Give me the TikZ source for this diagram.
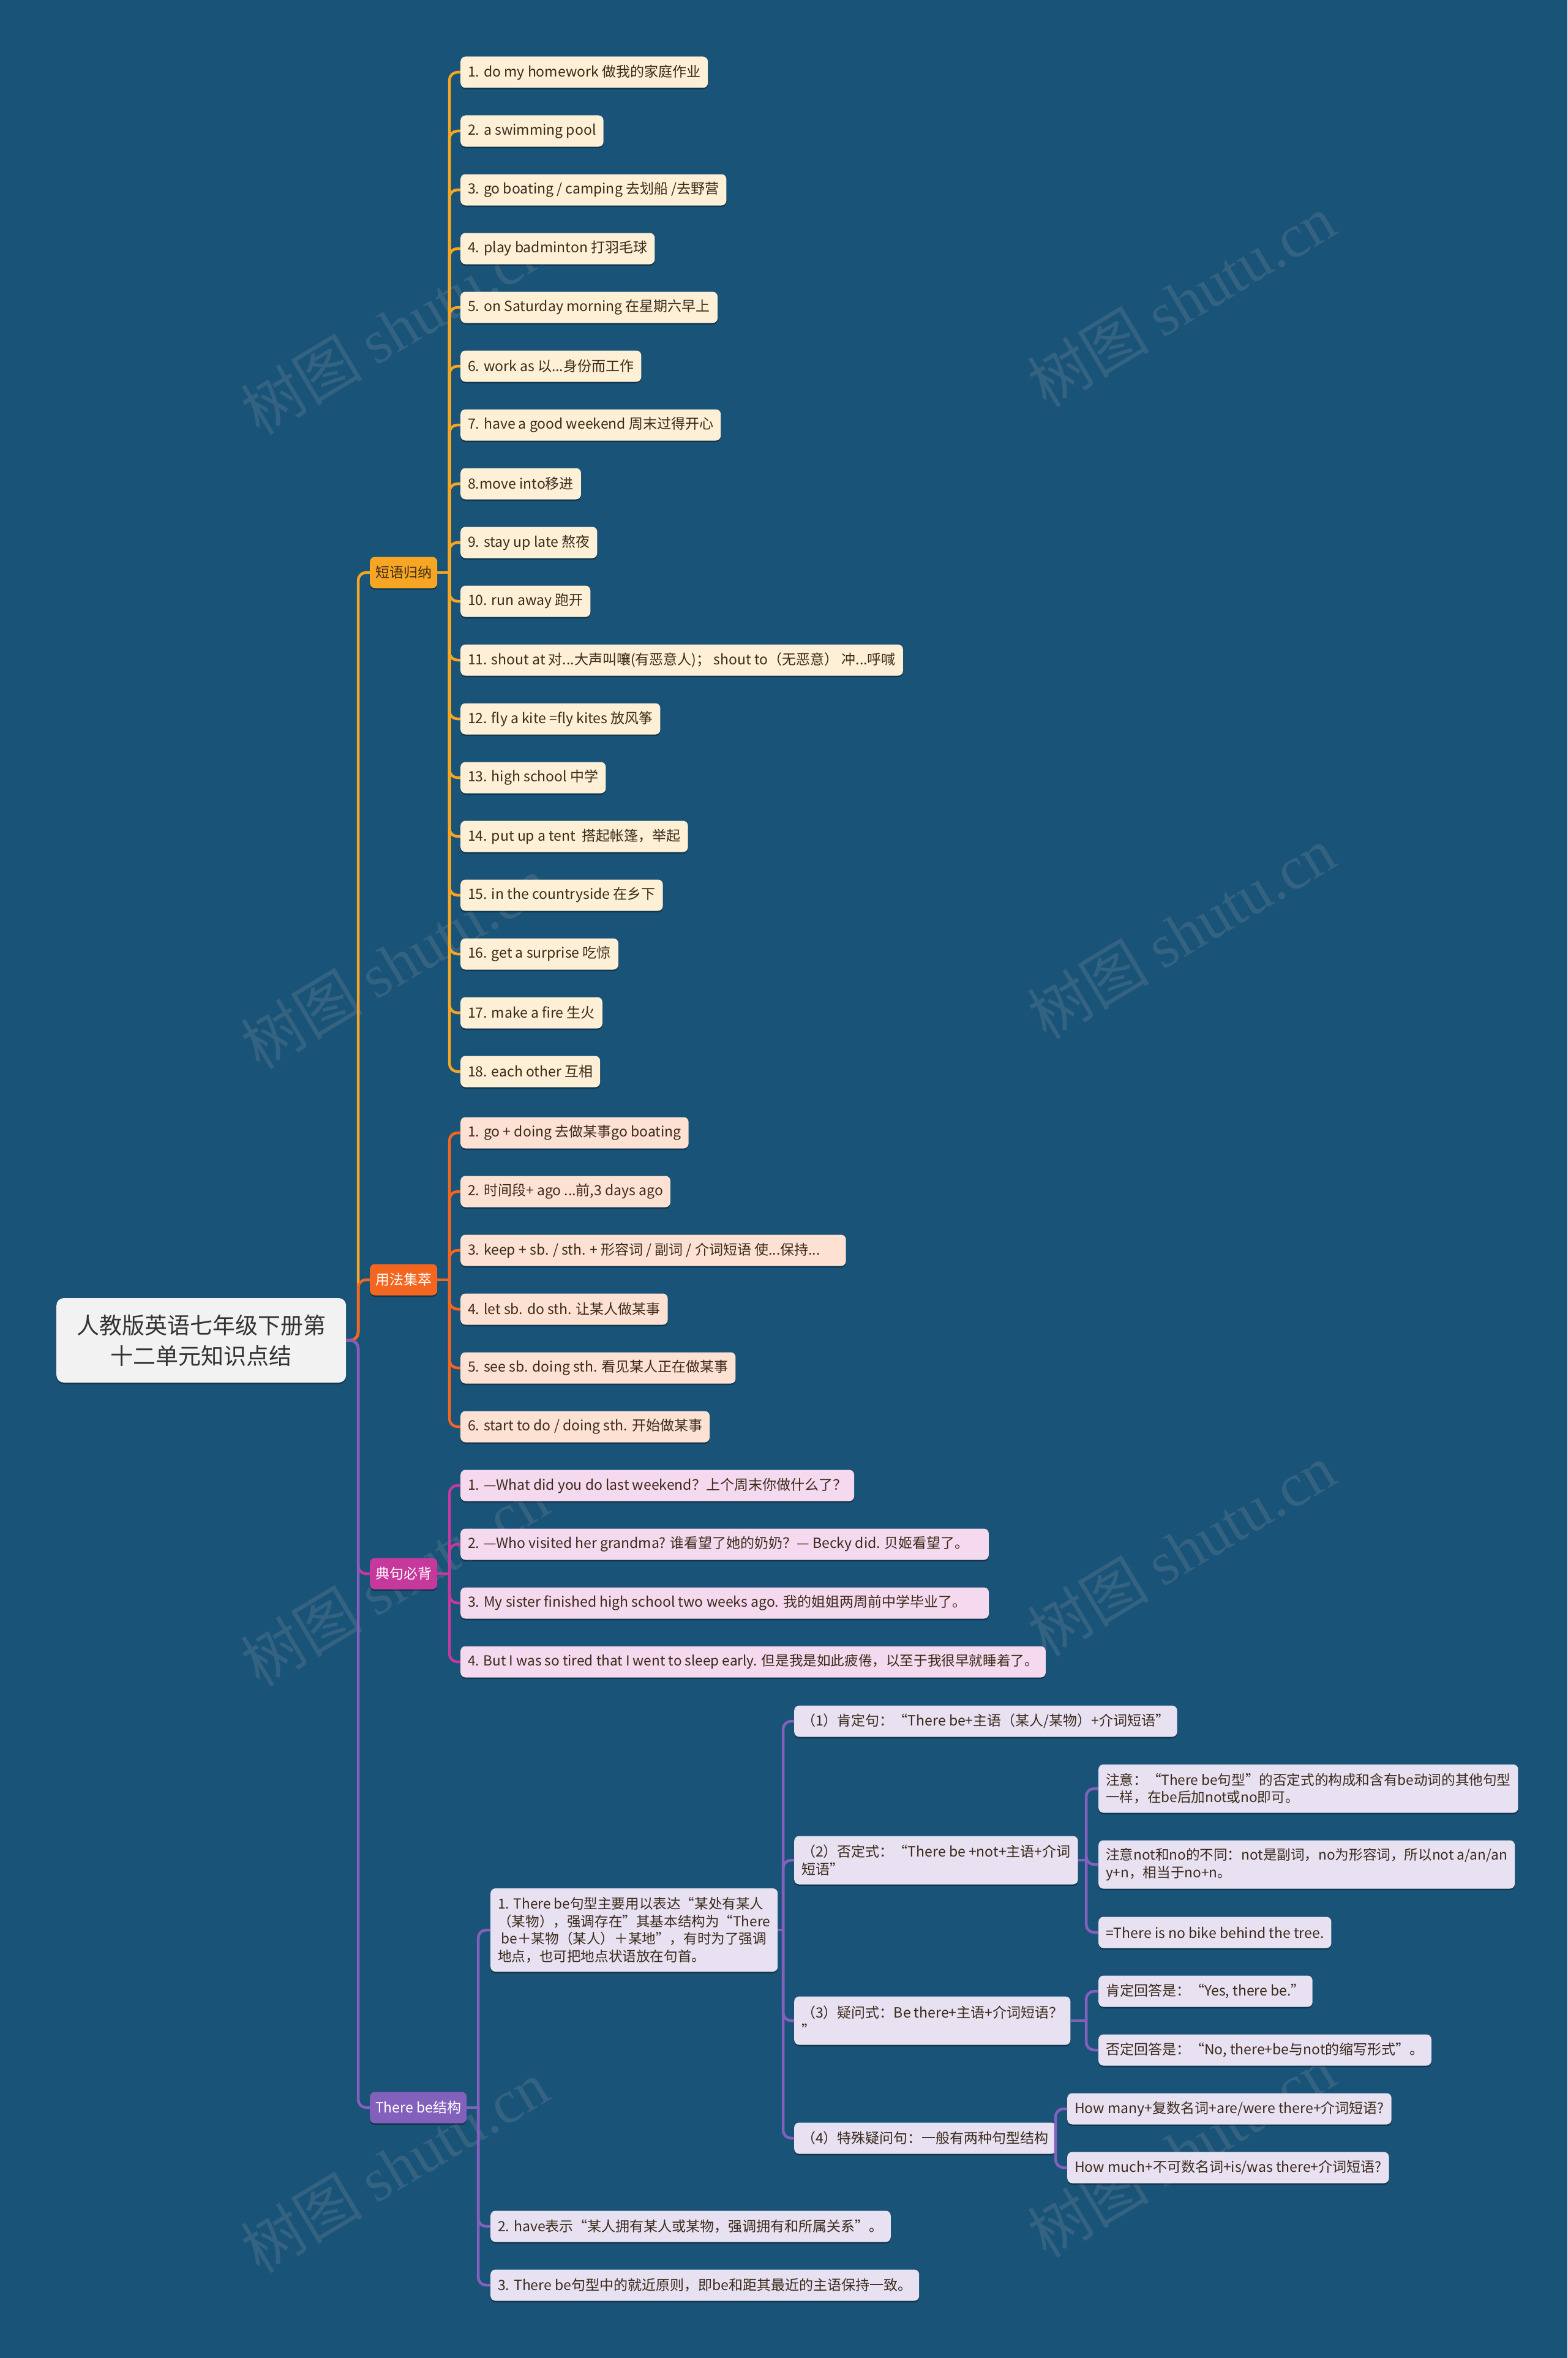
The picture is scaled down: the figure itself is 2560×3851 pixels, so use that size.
\documentclass[tikz,border=0pt]{standalone}
\usepackage{fontspec}
\setmainfont{Noto Sans CJK SC}
\newfontfamily\wmfont{Liberation Serif}
\usetikzlibrary{shadows}
\definecolor{cBg}{HTML}{195378}
\definecolor{cRoot}{HTML}{F2F2F2}
\definecolor{cRootTxt}{HTML}{333333}
\definecolor{cBrA}{HTML}{F7A623}
\definecolor{cLfA}{HTML}{FEF0D6}
\definecolor{cTxtA}{HTML}{3B2A1A}
\definecolor{cBrB}{HTML}{F4661F}
\definecolor{cLfB}{HTML}{FDE2D4}
\definecolor{cBrC}{HTML}{C7389D}
\definecolor{cLfC}{HTML}{F5D9EE}
\definecolor{cBrD}{HTML}{8460BD}
\definecolor{cLfD}{HTML}{E7E1F2}
\definecolor{cWm}{HTML}{7A8A99}
\newcommand\fsleaf{\fontsize{23pt}{28.5pt}\selectfont}
\newcommand\fsnarrow{\fontsize{22.6pt}{28.5pt}\selectfont}
\newcommand\fsroot{\fontsize{37pt}{50pt}\selectfont}
\newcommand\fswm{\fontsize{100pt}{110pt}\selectfont}
\tikzset{
  base/.style={anchor=west, rounded corners=8pt, inner xsep=12pt, inner ysep=0pt,
    minimum height=51pt, font=\fsleaf, text=cTxtA,
    drop shadow={shadow xshift=0pt, shadow yshift=-2.5pt, opacity=0.35, fill=black}},
  rootbox/.style={anchor=west, fill=cRoot, text=cRootTxt, rounded corners=12pt,
    text width=473pt, inner xsep=0pt, minimum height=138pt, align=center, font=\fsroot,
    drop shadow={shadow xshift=0pt, shadow yshift=-2.5pt, opacity=0.35, fill=black}},
  brA/.style={base, inner xsep=9pt, fill=cBrA, text=cTxtA},
  brB/.style={base, inner xsep=9pt, fill=cBrB, text=white},
  brC/.style={base, inner xsep=9pt, fill=cBrC, text=white},
  brD/.style={base, inner xsep=9pt, fill=cBrD, text=white},
  lfA/.style={base, fill=cLfA},
  lfB/.style={base, fill=cLfB},
  lfC/.style={base, fill=cLfC},
  lfD/.style={base, fill=cLfD},
  multi/.style={align=left, inner ysep=6pt},
  conn/.style={line width=4.5pt, rounded corners=13pt},
  connA/.style={conn, draw=cBrA},
  connB/.style={conn, draw=cBrB},
  connC/.style={conn, draw=cBrC},
  connD/.style={conn, draw=cBrD},
  wm/.style={font=\fswm, text=cWm, opacity=0.28, rotate=31}
}
\begin{document}
\begin{tikzpicture}[x=1pt,y=-1pt]
\fill[cBg] (0,0) rectangle (2560,3851);
\useasboundingbox (0,0) rectangle (2560,3851);

% watermarks
\node[wm] (wm1) at (644,536) {树图 {\wmfont shutu.cn}};
\node[wm] (wm2) at (1929,491) {树图 {\wmfont shutu.cn}};
\node[wm] (wm3) at (644,1572) {树图 {\wmfont shutu.cn}};
\node[wm] (wm4) at (1929,1523) {树图 {\wmfont shutu.cn}};
\node[wm] (wm5) at (644,2580) {树图 {\wmfont shutu.cn}};
\node[wm] (wm6) at (1929,2531) {树图 {\wmfont shutu.cn}};
\node[wm] (wm7) at (644,3538) {树图 {\wmfont shutu.cn}};
\node[wm] (wm8) at (1929,3513) {树图 {\wmfont shutu.cn}};

% root
\node[rootbox] (root) at (92,2189) {人教版英语七年级下册第\\十二单元知识点结};

% branches
\node[brA] (b1) at (604,935) {短语归纳};
\node[brB] (b2) at (604,2090) {用法集萃};
\node[brC] (b3) at (604,2570) {典句必背};
\node[brD] (b4) at (604,3442) {There be结构};

% branch 1 leaves
\node[lfA] (a1) at (752,118) {1. do my homework 做我的家庭作业};
\node[lfA] (a2) at (752,214) {2. a swimming pool};
\node[lfA] (a3) at (752,310) {3. go boating / camping 去划船 /去野营};
\node[lfA] (a4) at (752,406) {4. play badminton 打羽毛球};
\node[lfA] (a5) at (752,502) {5. on Saturday morning 在星期六早上};
\node[lfA] (a6) at (752,598) {6. work as 以...身份而工作};
\node[lfA] (a7) at (752,694) {7. have a good weekend 周末过得开心};
\node[lfA] (a8) at (752,790) {8.move into移进};
\node[lfA] (a9) at (752,886) {9. stay up late 熬夜};
\node[lfA] (a10) at (752,982) {10. run away 跑开};
\node[lfA] (a11) at (752,1078) {11. shout at 对...大声叫嚷(有恶意人)； shout to（无恶意） 冲...呼喊};
\node[lfA] (a12) at (752,1174) {12. fly a kite =fly kites 放风筝};
\node[lfA] (a13) at (752,1270) {13. high school 中学};
\node[lfA] (a14) at (752,1366) {14. put up a tent \ 搭起帐篷，举起};
\node[lfA] (a15) at (752,1462) {15. in the countryside 在乡下};
\node[lfA] (a16) at (752,1558) {16. get a surprise 吃惊};
\node[lfA] (a17) at (752,1654) {17. make a fire 生火};
\node[lfA] (a18) at (752,1750) {18. each other 互相};

% branch 2 leaves
\node[lfB] (u1) at (752,1850) {1. go + doing 去做某事go boating};
\node[lfB] (u2) at (752,1946) {2. 时间段+ ago ...前,3 days ago};
\node[lfB] (u3) at (752,2042) {3. keep + sb. / sth. + 形容词 / 副词 / 介词短语 使...保持...\kern30pt};
\node[lfB] (u4) at (752,2138) {4. let sb. do sth. 让某人做某事};
\node[lfB] (u5) at (752,2234) {5. see sb. doing sth. 看见某人正在做某事};
\node[lfB] (u6) at (752,2330) {6. start to do / doing sth. 开始做某事};

% branch 3 leaves
\node[lfC] (s1) at (752,2426) {1. —What did you do last weekend？上个周末你做什么了？};
\node[lfC] (s2) at (752,2522) {2. —Who visited her grandma? 谁看望了她的奶奶？— Becky did. 贝姬看望了。\kern20pt};
\node[lfC] (s3) at (752,2618) {3. My sister finished high school two weeks ago. 我的姐姐两周前中学毕业了。\kern25pt};
\node[lfC, font=\fsnarrow] (s4) at (752,2714) {4. But I was so tired that I went to sleep early. 但是我是如此疲倦，以至于我很早就睡着了。};

% branch 4 level 2
\node[lfD, multi, minimum height=136pt, font=\fsnarrow] (t1) at (801,3152) {1. There be句型主要用以表达“某处有某人\\（某物），强调存在”其基本结构为“There\\\hspace{0.25em}be＋某物（某人）＋某地”，有时为了强调\\地点，也可把地点状语放在句首。};
\node[lfD] (t2) at (801,3636) {2. have表示“某人拥有某人或某物，强调拥有和所属关系”。};
\node[lfD] (t3) at (801,3732) {3. There be句型中的就近原则，即be和距其最近的主语保持一致。};

% level 3
\node[lfD] (p1) at (1297,2811) {（1）肯定句：“There be+主语（某人/某物）+介词短语”};
\node[lfD, multi, minimum height=79pt] (p2) at (1297,3038) {（2）否定式：“There be +not+主语+介词\\短语”};
\node[lfD, multi, minimum height=79pt] (p3) at (1297,3300) {（3）疑问式：Be there+主语+介词短语？\\”};
\node[lfD] (p4) at (1297,3492) {（4）特殊疑问句：一般有两种句型结构};

% level 4
\node[lfD, multi, minimum height=79pt, font=\fsnarrow] (n1) at (1794,2921) {注意：“There be句型”的否定式的构成和含有be动词的其他句型\\一样，在be后加not或no即可。};
\node[lfD, multi, minimum height=79pt, font=\fsnarrow] (n2) at (1794,3045) {注意not和no的不同：not是副词，no为形容词，所以not a/an/an\\y+n，相当于no+n。};
\node[lfD] (n3) at (1794,3156) {=There is no bike behind the tree.};
\node[lfD] (q1) at (1794,3252) {肯定回答是：“Yes, there be.”};
\node[lfD] (q2) at (1794,3348) {否定回答是：“No, there+be与not的缩写形式”。};
\node[lfD] (h1) at (1743,3444) {How many+复数名词+are/were there+介词短语?};
\node[lfD] (h2) at (1743,3540) {How much+不可数名词+is/was there+介词短语?};

% connectors root -> branches
\coordinate (rj) at (585,2189);
\draw[connA] (root.east) -- (rj) |- (b1.west);
\draw[connB] (root.east) -- (rj) |- (b2.west);
\draw[connC] (root.east) -- (rj) |- (b3.west);
\draw[connD] (root.east) -- (rj) |- (b4.west);

% branch 1
\coordinate (j1) at (734,935);
\draw[connA] (b1.east) -- (j1);
\foreach \i in {1,...,18} \draw[connA] (j1) |- (a\i.west);

% branch 2
\coordinate (j2) at (734,2090);
\draw[connB] (b2.east) -- (j2);
\foreach \i in {1,...,6} \draw[connB] (j2) |- (u\i.west);

% branch 3
\coordinate (j3) at (734,2570);
\draw[connC] (b3.east) -- (j3);
\foreach \i in {1,...,4} \draw[connC] (j3) |- (s\i.west);

% branch 4
\coordinate (j4) at (781,3442);
\draw[connD] (b4.east) -- (j4);
\foreach \i in {1,2,3} \draw[connD] (j4) |- (t\i.west);

\coordinate (j5) at (1279,3152);
\draw[connD] (t1.east) -- (j5);
\foreach \i in {1,...,4} \draw[connD] (j5) |- (p\i.west);

\coordinate (j6) at (1774,3038);
\draw[connD] (p2.east) -- (j6);
\foreach \i in {1,2,3} \draw[connD] (j6) |- (n\i.west);

\coordinate (j7) at (1774,3300);
\draw[connD] (p3.east) -- (j7);
\foreach \i in {1,2} \draw[connD] (j7) |- (q\i.west);

\coordinate (j8) at (1724,3492);
\draw[connD] (p4.east) -- (j8);
\foreach \i in {1,2} \draw[connD] (j8) |- (h\i.west);
\end{tikzpicture}
\end{document}
